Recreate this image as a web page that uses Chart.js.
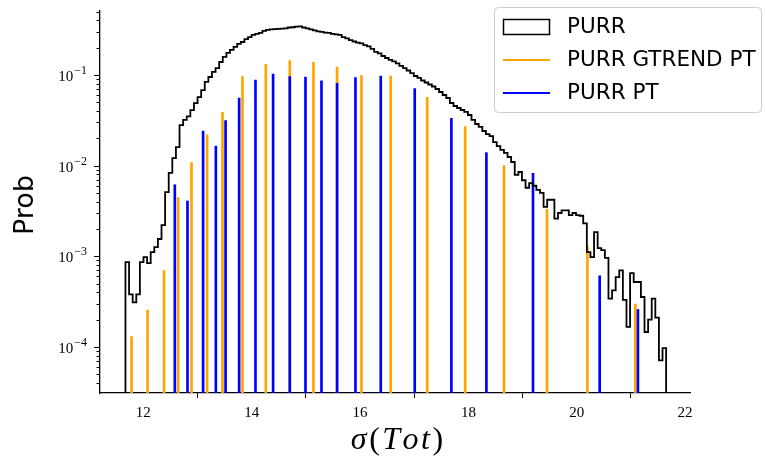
<!DOCTYPE html>
<html>
<head>
<meta charset="utf-8">
<script src="https://cdn.jsdelivr.net/npm/chart.js@4.4.0/dist/chart.umd.min.js"></script>
<style>
  html, body { margin: 0; padding: 0; background: #fff; }
  #wrap { width: 765px; height: 464px; }
</style>
</head>
<body>
<div id="wrap"><canvas id="chart"></canvas></div>
<script>
// histogram: 150 bins starting at binStart
const binStart = 11.67;
const binWidth = 0.06653;
const purrHist = [
  8.6e-4, 3.8e-4, 3.1e-4, 3.8e-4, 8.6e-4, 9.8e-4, 8.4e-4, 1.11e-3, 1.26e-3, 1.55e-3,
  2.2e-3, 5.1e-3, 8.3e-3, 1.21e-2, 1.6e-2, 2.8e-2, 3.2e-2, 3.5e-2, 4.1e-2, 4.9e-2,
  5.7e-2, 6.8e-2, 8.4e-2, 9.5e-2, 0.108, 0.119, 0.139, 0.158, 0.175, 0.189,
  0.204, 0.220, 0.231, 0.249, 0.262, 0.277, 0.284, 0.291, 0.306, 0.314,
  0.318, 0.320, 0.322, 0.325, 0.327, 0.334, 0.336, 0.341, 0.343, 0.334,
  0.327, 0.318, 0.310, 0.303, 0.299, 0.294, 0.291, 0.284, 0.280, 0.277,
  0.262, 0.253, 0.243, 0.234, 0.228, 0.223, 0.214, 0.207, 0.194, 0.180,
  0.173, 0.162, 0.154, 0.147, 0.141, 0.134, 0.126, 0.119, 0.112, 0.105,
  0.0975, 0.0927, 0.0869, 0.0826, 0.0785, 0.0746, 0.070, 0.0649, 0.0601, 0.0557,
  0.0491, 0.0455, 0.0432, 0.0411, 0.0391, 0.0362, 0.0319, 0.0288, 0.0267, 0.0241,
  0.0223, 0.0212, 0.0182, 0.0164, 0.0149, 0.0138, 0.01245, 0.01096, 7.9e-3, 8.5e-3,
  6.9e-3, 5.7e-3, 6.4e-3, 6.0e-3, 5.4e-3, 5.0e-3, 3.5e-3, 4.2e-3, 4.2e-3, 2.6e-3,
  3.0e-3, 3.2e-3, 3.2e-3, 2.85e-3, 3.0e-3, 2.85e-3, 2.8e-3, 2.3e-3, 1.11e-3, 9.8e-4,
  1.85e-3, 1.23e-3, 1.17e-3, 9.6e-4, 3.4e-4, 4.2e-4, 5.9e-4, 7.0e-4, 3.3e-4, 1.66e-4,
  6.5e-4, 5.2e-4, 5.2e-4, 3.55e-4, 1.46e-4, 2.0e-4, 3.4e-4, 2.1e-4, 7.1e-5, 9.7e-5
];

const gtrendX = [11.782, 12.077, 12.382, 12.642, 12.889, 13.177, 13.461, 13.830, 14.260, 14.703,
                 15.140, 15.576, 16.026, 16.566, 17.240, 17.941, 18.657, 19.450, 20.196, 21.081];
const gtrendY = [1.30e-4, 2.55e-4, 6.95e-4, 4.45e-3, 1.08e-2, 2.18e-2, 3.88e-2, 9.58e-2, 0.131, 0.144,
                 0.138, 0.122, 0.0982, 0.0975, 0.0565, 0.0269, 9.97e-3, 3.30e-3, 1.30e-3, 2.97e-4];

const ptX = [12.581, 12.815, 13.103, 13.338, 13.518, 13.768, 14.070, 14.395, 14.703, 14.993,
             15.288, 15.576, 15.915, 16.382, 17.009, 17.686, 18.332, 19.192, 20.423, 21.129];
const ptY = [6.15e-3, 4.07e-3, 2.41e-2, 1.64e-2, 3.13e-2, 5.57e-2, 0.0881, 0.1026, 0.0962, 0.0951,
             0.0863, 0.0810, 0.0938, 0.0975, 0.0710, 0.0333, 0.0139, 8.22e-3, 6.09e-4, 2.59e-4];

const xMin = 11.2, xMax = 22.09;
const yMin = 3.1e-5, yMax = 0.508;
const xTicks = [12, 14, 16, 18, 20, 22];
const yTickExp = [-4, -3, -2, -1];
const yTickSup = ['\u22124', '\u22123', '\u22122', '\u22121'];
const legendLabels = ['PURR', 'PURR GTREND PT', 'PURR PT'];

// step outline of the histogram
let histPoints = [{x: binStart, y: 1e-7}];
for (let i = 0; i < purrHist.length; i++) {
  histPoints.push({x: binStart + i * binWidth, y: purrHist[i]});
}
histPoints.push({x: binStart + purrHist.length * binWidth, y: 1e-7});

const stems = (xs, ys) => xs.map((x, i) => ({x: x, y: [yMin, ys[i]]}));

// x title drawn piece by piece: italic letters, upright parentheses
const xTitleParts = [['\u03c3', true], ['(', false], ['T', true], ['o', true], ['t', true], [')', false]];

const overlay = {
  id: 'overlay',
  afterDraw(chart) {
    const ctx = chart.ctx;
    const ys = chart.scales.y;
    const area = chart.chartArea;
    ctx.save();
    ctx.strokeStyle = '#000';
    ctx.fillStyle = '#000';
    ctx.lineWidth = 1;
    // y ticks, major and minor
    for (let d = -5; d <= 0; d++) {
      for (let m = 1; m <= 9; m++) {
        const v = m * Math.pow(10, d);
        if (v < yMin || v > yMax) continue;
        const py = Math.round(ys.getPixelForValue(v)) + 0.5;
        const len = m === 1 ? 6 : 3.5;
        ctx.beginPath();
        ctx.moveTo(area.left, py);
        ctx.lineTo(area.left - len, py);
        ctx.stroke();
      }
    }
    // y tick labels
    yTickExp.forEach((e, i) => {
      const py = ys.getPixelForValue(Math.pow(10, e));
      ctx.font = '15px "Liberation Serif"';
      const wBase = ctx.measureText('10').width;
      ctx.font = '12px "Liberation Serif"';
      const wSup = ctx.measureText(yTickSup[i]).width;
      const right = area.left - 13;
      ctx.textBaseline = 'middle';
      ctx.textAlign = 'left';
      ctx.font = '15px "Liberation Serif"';
      ctx.fillText('10', right - wSup - wBase - 1, py + 2);
      ctx.font = '12px "Liberation Serif"';
      ctx.fillText(yTickSup[i], right - wSup, py - 4);
    });
    // x axis title
    ctx.textBaseline = 'alphabetic';
    ctx.textAlign = 'left';
    const gap = 2.5;
    let total = 0;
    const widths = xTitleParts.map(([ch, it]) => {
      ctx.font = (it ? 'italic ' : '') + '32px "Liberation Serif"';
      const w = ctx.measureText(ch).width;
      total += w;
      return w;
    });
    total += gap * (xTitleParts.length - 1);
    let tx = 397 - total / 2;
    xTitleParts.forEach(([ch, it], i) => {
      ctx.font = (it ? 'italic ' : '') + '32px "Liberation Serif"';
      ctx.fillText(ch, tx, 449);
      tx += widths[i] + gap;
    });
    // y axis title
    ctx.textAlign = 'center';
    ctx.textBaseline = 'middle';
    ctx.save();
    ctx.translate(26, 205);
    ctx.rotate(-Math.PI / 2);
    ctx.font = '27px "DejaVu Sans"';
    ctx.fillText('Prob', 0, 0);
    ctx.restore();
    // legend
    ctx.beginPath();
    ctx.roundRect(494.5, 7.5, 267, 105, 4);
    ctx.fillStyle = 'rgba(255,255,255,0.8)';
    ctx.fill();
    ctx.strokeStyle = '#cccccc';
    ctx.lineWidth = 1;
    ctx.stroke();
    ctx.strokeStyle = '#000';
    ctx.lineWidth = 1.5;
    ctx.strokeRect(503.5, 19.5, 46, 15);
    ctx.lineWidth = 2;
    ctx.strokeStyle = 'orange';
    ctx.beginPath(); ctx.moveTo(503, 60); ctx.lineTo(550, 60); ctx.stroke();
    ctx.strokeStyle = 'blue';
    ctx.beginPath(); ctx.moveTo(503, 93); ctx.lineTo(550, 93); ctx.stroke();
    ctx.fillStyle = '#000';
    ctx.textAlign = 'left';
    ctx.font = '21.5px "DejaVu Sans"';
    const rowY = [27, 60, 93];
    legendLabels.forEach((t, i) => ctx.fillText(t, 567, rowY[i]));
    ctx.restore();
  }
};

new Chart(document.getElementById('chart'), {
  type: 'line',
  data: {
    datasets: [
      {
        label: legendLabels[0],
        data: histPoints,
        borderColor: '#000',
        borderWidth: 1.8,
        pointRadius: 0,
        stepped: 'before',
        fill: false,
        order: 0
      },
      {
        type: 'bar',
        label: legendLabels[2],
        data: stems(ptX, ptY),
        backgroundColor: 'blue',
        barThickness: 2,
        grouped: false,
        order: 1
      },
      {
        type: 'bar',
        label: legendLabels[1],
        data: stems(gtrendX, gtrendY),
        backgroundColor: 'orange',
        barThickness: 2,
        grouped: false,
        order: 2
      }
    ]
  },
  options: {
    responsive: true,
    maintainAspectRatio: false,
    animation: false,
    devicePixelRatio: 1,
    layout: { padding: { left: 0, top: 11, right: 75, bottom: 0 } },
    plugins: { legend: { display: false }, tooltip: { enabled: false } },
    scales: {
      x: {
        type: 'linear',
        min: xMin,
        max: xMax,
        offset: false,
        afterFit: (s) => { s.height = 71; },
        afterBuildTicks: (s) => { s.ticks = xTicks.map(v => ({value: v})); },
        grid: { drawOnChartArea: false, drawTicks: true, tickLength: 5, color: '#000', tickWidth: 1 },
        border: { display: true, color: '#000', width: 1.3 },
        ticks: {
          color: '#000',
          padding: 6,
          maxRotation: 0,
          font: { family: '"Liberation Serif"', size: 15 }
        }
      },
      y: {
        type: 'logarithmic',
        min: yMin,
        max: yMax,
        afterFit: (s) => { s.width = 100; },
        grid: { display: false },
        border: { display: true, color: '#000', width: 1.3 },
        ticks: { display: false }
      }
    }
  },
  plugins: [overlay]
});
</script>
</body>
</html>
